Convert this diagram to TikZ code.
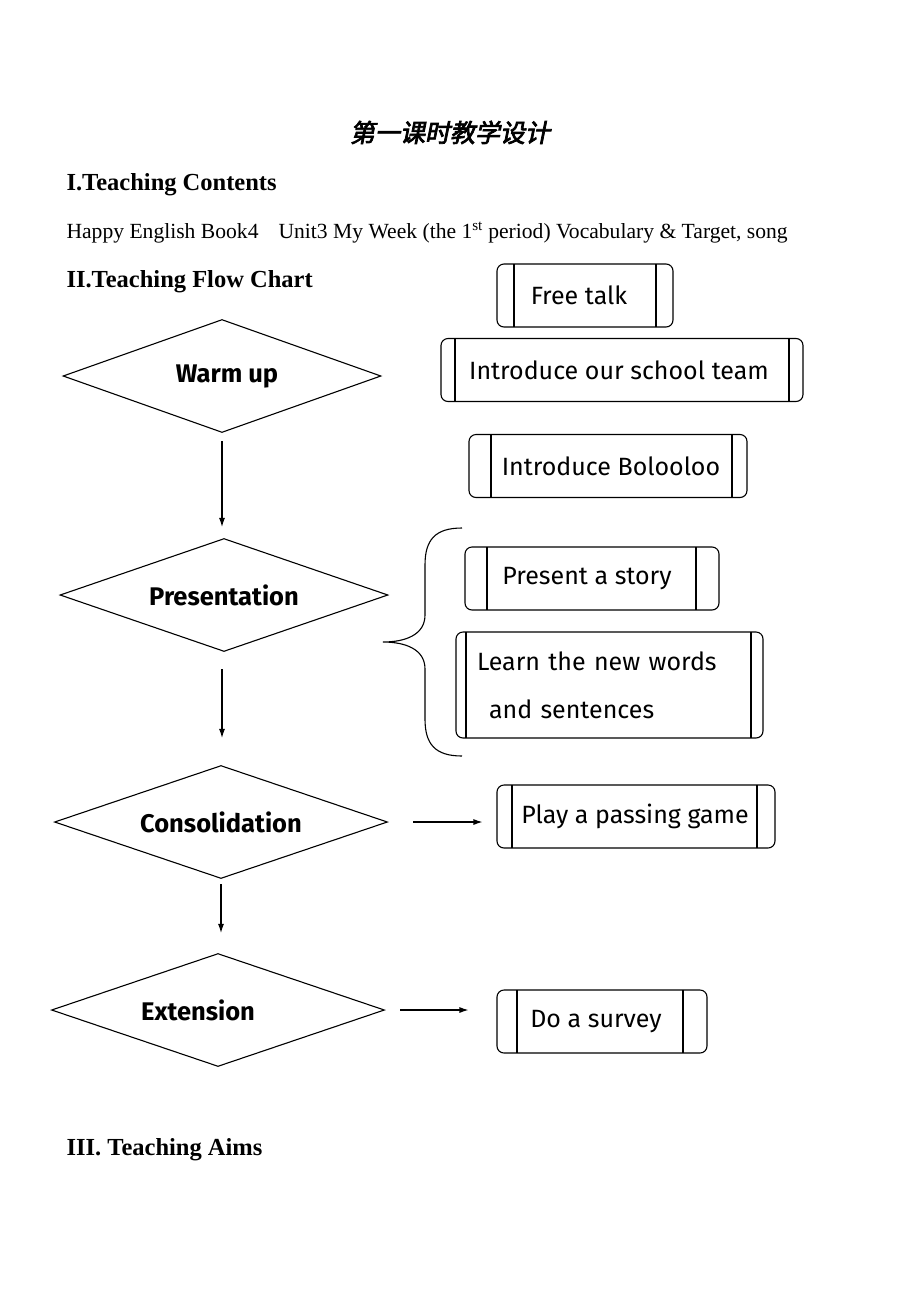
\documentclass[tikz,border=0pt]{standalone}
\usepackage{fontspec}
\setmainfont{Liberation Serif}
\newfontfamily\boxfont{Fira Sans}
\newfontfamily\cjk[FakeSlant=0.2,FakeBold=3]{Noto Sans CJK SC}
\usetikzlibrary{shapes.geometric, arrows.meta}
\tikzset{
  step diamond/.style={diamond, draw, aspect=3, minimum width=#1, minimum height=113pt, inner sep=0pt, font=\boxfont\bfseries\fontsize{25.5}{30}\selectfont},
  tbox/.style 2 args={draw, rounded corners=7pt, minimum height=63pt, inner sep=0pt, font=\boxfont\fontsize{25}{30}\selectfont,
    path picture={
      \draw ([xshift=#1]path picture bounding box.north west) -- ([xshift=#1]path picture bounding box.south west);
      \draw ([xshift=-#2]path picture bounding box.north east) -- ([xshift=-#2]path picture bounding box.south east);
    }},
  arr/.style={-{Latex[length=9pt, width=6pt]}},
}
\begin{document}
\begin{tikzpicture}[x=1pt, y=-1pt, line width=1.1pt]
      \useasboundingbox (0,0) rectangle (920,1302);
      % headings
      \node[anchor=base] (title) at (450,142) {\cjk\fontsize{25}{30}\selectfont 第一课时教学设计};
      \node[anchor=base west, inner sep=0pt] (h1) at (66,190) {\fontsize{24.5}{28}\selectfont\bfseries I.Teaching Contents};
      \node[anchor=base west, inner sep=0pt] (book) at (66,238) {\fontsize{21.6}{25}\selectfont Happy English Book4\hspace{20pt}Unit3 My Week (the 1\textsuperscript{st} period) Vocabulary \& Target, song};
      \node[anchor=base west, inner sep=0pt] (h2) at (66,287) {\fontsize{24.5}{28}\selectfont\bfseries II.Teaching Flow Chart};
      \node[anchor=base west, inner sep=0pt] (h3) at (66,1155) {\fontsize{24.5}{28}\selectfont\bfseries III. Teaching Aims};
      % steps
      \node[step diamond=318pt] (warm) at (222,376) {\hspace*{10pt}Warm up};
      \node[step diamond=328pt] (pres) at (224,595) {Presentation};
      \node[step diamond=333pt] (cons) at (221,822) {Consolidation};
      \node[step diamond=333pt] (ext) at (218,1010) {Extension\hspace*{40pt}};
      \draw[arr, shorten <=8pt, shorten >=11pt] (warm.south) -- (warm.south |- pres.north);
      \draw[arr, shorten <=17pt, shorten >=27pt] (pres.south -| warm) -- (warm |- cons.north);
      \draw[arr, shorten <=5pt, shorten >=20pt] (cons.south) -- (cons.south |- ext.north);
      % activities
      \node[tbox={17pt}{17pt}, minimum width=176pt] (free) at (585,295.5) {Free talk\hspace*{12pt}};
      \node[tbox={14pt}{14pt}, minimum width=362pt] (team) at (622,370) {Introduce our school team\hspace*{6pt}};
      \node[tbox={22pt}{15pt}, minimum width=278pt] (bolo) at (608,466) {\hspace*{6pt}Introduce Bolooloo};
      \node[tbox={22pt}{23pt}, minimum width=254pt] (story) at (592,578.5) {Present a story\hspace*{10pt}};
      \node[tbox={10pt}{12pt}, minimum width=307pt, minimum height=106pt, align=left, text width=265pt, inner xsep=21pt,
        font=\boxfont\fontsize{25}{48}\selectfont] (learn) at (609.5,685)
        {Learn the new words\\\hspace*{12pt}and sentences};
      \node[tbox={15pt}{18pt}, minimum width=278pt] (game) at (636,816.5) {Play a passing game\hspace*{2pt}};
      \node[tbox={20pt}{24pt}, minimum width=210pt] (survey) at (602,1021.5) {Do a survey\hspace*{12pt}};
      % brace
      \coordinate (btop) at (462,528);
      \coordinate (btip) at (383,642);
      \coordinate (bbot) at (462,756);
      \draw (btop) .. controls (435,528) and (425,540) .. (425,565) -- (425,615)
        .. controls (425,635) and (405,642) .. (btip)
        .. controls (405,642) and (425,649) .. (425,669) -- (425,719)
        .. controls (425,744) and (435,756) .. (bbot);
      \draw[arr, shorten <=25pt, shorten >=14pt] (cons) -- (cons -| game.west);
      \draw[arr, shorten <=15pt, shorten >=28pt] (ext) -- (ext -| survey.west);
    \end{tikzpicture}
\end{document}
